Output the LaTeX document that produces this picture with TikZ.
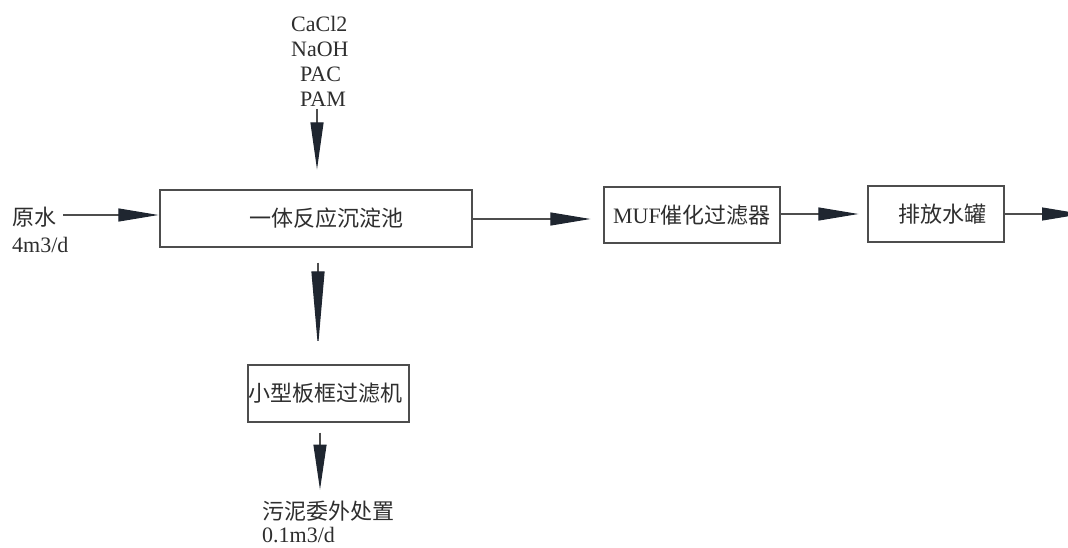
\documentclass[tikz,border=0pt]{standalone}
\usepackage{fontspec}
\setmainfont{Liberation Serif}
\newfontfamily\cjk{Noto Sans CJK SC}
\usetikzlibrary{arrows.meta}
\definecolor{ink}{HTML}{1F2630}
\definecolor{ln}{HTML}{4D4D4D}
\definecolor{txt}{HTML}{2E2E2E}
\begin{document}
\begin{tikzpicture}[x=1pt,y=-1pt,
  every node/.style={font=\fontsize{22}{25}\selectfont, text=txt},
  box/.style={draw=ln, line width=1.2pt, inner sep=0pt},
  lbl/.style={inner sep=0pt},
  arr/.style={draw=ln, line width=1.1pt, -{Triangle[length=#1,width=13pt,color=ink]}},
  arr/.default=40pt]
\useasboundingbox (0,0) rectangle (1068,548);
\clip (0,0) rectangle (1068,548);
\fill[white] (0,0) rectangle (1068,548);

% boxes
\node[box, minimum width=312pt, minimum height=57pt] (b1) at (316,218.5) {\hspace*{20pt}{\cjk 一体反应沉淀池}};
\node[box, minimum width=176pt, minimum height=56pt] (b2) at (692,215) {MUF{\cjk 催化过滤器}};
\node[box, minimum width=136pt, minimum height=56pt] (b3) at (936,214) {\hspace*{12pt}{\cjk 排放水罐}};
\node[box, minimum width=161pt, minimum height=57pt] (b4) at (328.5,393.5) {\hspace*{-6pt}{\cjk 小型板框过滤机}};

% labels
\node[lbl, anchor=west] (raw) at (12,217) {\cjk 原水};
\node[lbl, anchor=west] (q1) at (12,245) {4m3/d};
\node[lbl, anchor=west, align=left] (chem) at (291,61.5) {CaCl2\\NaOH\\\hspace*{9pt}PAC\\\hspace*{9pt}PAM};
\node[lbl, anchor=west] (sludge) at (262,511) {\cjk 污泥委外处置};
\node[lbl, anchor=west] (q2) at (262,535) {0.1m3/d};
\coordinate (out) at (1082,214);

% connectors
\draw[arr=47pt, shorten <=2pt, shorten >=20pt] (chem.south -| 317,0) -- (b1.north -| 317,0);
\draw[arr, shorten <=7pt, shorten >=1pt] (raw.east |- 0,215) -- (b1.west |- 0,215);
\draw[arr, shorten >=13pt] (b1.east |- 0,219) -- (b2.west |- 0,219);
\draw[arr, shorten >=9pt] (b2.east |- 0,214) -- (b3.west |- 0,214);
\draw[arr] (b3.east |- out) -- (out);
\draw[arr=76pt, shorten <=15pt, shorten >=17pt] (b1.south -| 318,0) -- (b4.north -| 318,0);
\draw[arr=45pt, shorten <=10pt, shorten >=11pt] (b4.south -| 320,0) -- (sludge.north -| 320,0);
\end{tikzpicture}
\end{document}
